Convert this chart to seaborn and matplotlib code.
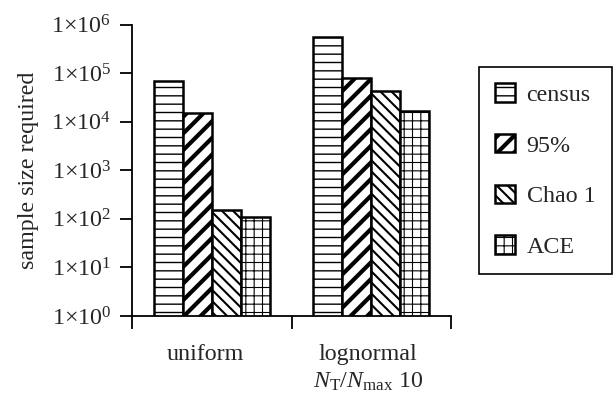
import numpy as np
import pandas as pd
import matplotlib
matplotlib.use("Agg")
import matplotlib.pyplot as plt
import seaborn as sns
from matplotlib.ticker import FixedLocator, FuncFormatter, NullFormatter

# Sample sizes required by each method for two abundance distributions
distributions = ["uniform", "lognormal"]
methods = ["census", "95%", "Chao 1", "ACE"]
uniform_vals = [7.0e4, 1.48e4, 152, 109]
lognormal_vals = [5.45e5, 7.9e4, 4.3e4, 1.67e4]
xtick_labels = ["uniform", "lognormal\n$N_\\mathrm{T}/N_\\mathrm{max}$ 10"]
ytick_exponents = [0, 1, 2, 3, 4, 5, 6]

df = pd.DataFrame({
    "distribution": np.repeat(distributions, len(methods)),
    "method": methods * len(distributions),
    "size": uniform_vals + lognormal_vals,
})

sns.set_style("white")
plt.rcParams["font.family"] = ["Liberation Serif", "DejaVu Serif"]
plt.rcParams["mathtext.fontset"] = "custom"
plt.rcParams["mathtext.rm"] = "Liberation Serif"
plt.rcParams["mathtext.it"] = "Liberation Serif:italic"
plt.rcParams["hatch.color"] = "black"

FS = 17.3
DPI = 100
fig = plt.figure(figsize=(616 / DPI, 399 / DPI), dpi=DPI)
ax = fig.add_axes([132 / 616, 1 - 316 / 399, (451 - 132) / 616, (316 - 24.5) / 399])
ax.set_yscale("log", nonpositive="clip")

sns.barplot(data=df, x="distribution", y="size", hue="method",
            order=distributions, hue_order=methods,
            width=0.73, gap=0, dodge=True,
            color="white", saturation=1, legend=False, ax=ax)

hatches = ["--", "//", "\\\\\\", "++"]
hatch_widths = [1.0, 3.0, 1.5, 0.8]
for cont, h, hw in zip(ax.containers, hatches, hatch_widths):
    for p in cont.patches:
        p.set_facecolor("white")
        p.set_edgecolor("black")
        p.set_linewidth(1.8)
        p.set_hatch(h)
        if hasattr(p, "set_hatch_linewidth"):
            p.set_hatch_linewidth(hw)

ax.set_ylim(1, 1e6)
ax.set_xlim(-0.5, 1.5)
ax.yaxis.set_major_locator(FixedLocator([10.0 ** e for e in ytick_exponents]))
ax.yaxis.set_minor_locator(FixedLocator([]))
ax.yaxis.set_major_formatter(FuncFormatter(
    lambda v, pos: "$1{\\times}10^{%d}$" % int(round(np.log10(v)))))

# Category boundaries carry the tick marks; names sit between them
ax.xaxis.set_major_locator(FixedLocator([-0.5, 0.5, 1.5]))
ax.xaxis.set_major_formatter(NullFormatter())
ax.set_xticks([-0.04, 0.98], minor=True)
ax.set_xticklabels(xtick_labels, minor=True, linespacing=1.35)
ax.tick_params(axis="x", which="minor", length=0, pad=20, labelsize=FS)
ax.tick_params(axis="x", which="major", length=9, width=1.3, direction="out",
               bottom=True, color="black")
ax.tick_params(axis="y", which="major", length=9, width=1.3, direction="out",
               left=True, pad=6, labelsize=FS, color="black")

for side in ["top", "right"]:
    ax.spines[side].set_visible(False)
for side in ["left", "bottom"]:
    ax.spines[side].set_color("black")
    ax.spines[side].set_linewidth(1.3)

ax.set_xlabel("")
ax.set_ylabel("sample size required", fontsize=FS, labelpad=9)

leg = fig.legend(ax.containers, methods, loc="upper left",
                 bbox_to_anchor=(479 / 616, 1 - 67 / 399),
                 fontsize=FS, frameon=True, fancybox=False, shadow=False,
                 handlelength=0.8, handleheight=0.8, handletextpad=0.5,
                 labelspacing=1.17, borderpad=0.68, borderaxespad=0,
                 framealpha=1)
leg.get_frame().set_edgecolor("black")
leg.get_frame().set_linewidth(1.2)
for h, hw in zip(leg.legend_handles, hatch_widths):
    h.set_linewidth(1.8)
    if hasattr(h, "set_hatch_linewidth"):
        h.set_hatch_linewidth(hw)

fig.savefig("out.png", dpi=DPI, facecolor="white")
